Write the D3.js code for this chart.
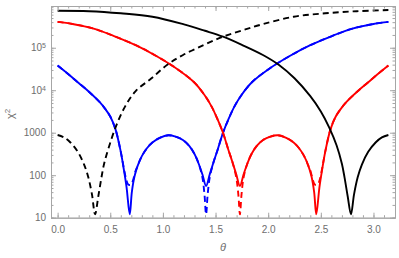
<!DOCTYPE html>
<html>
<head>
<meta charset="utf-8">
<script src="https://cdn.jsdelivr.net/npm/d3@7"></script>
<style>
  body { margin: 0; background: #fff; }
  text { font-family: "Liberation Sans", Arial, sans-serif; }
</style>
</head>
<body>
<div id="chart"></div>
<script>
// values (theta in rad, chi^2)
var thetaBlackSolid = [0, 0.3, 0.6, 0.9, 1.2, 1.4, 1.571, 1.75, 1.95, 2.1, 2.25, 2.4, 2.5, 2.58, 2.65, 2.7, 2.725, 2.755, 2.786, 2.815, 2.85, 2.89, 2.95, 3.02, 3.08, 3.1416];
var chiBlackSolid   = [741000, 724000, 646000, 537000, 355000, 251000, 182000, 117000, 67600, 39800, 19100, 7240, 3160, 1320, 501, 186, 89, 32, 12, 35, 89, 178, 355, 589, 776, 883];

var thetaBlackDashed = [0, 0.0616, 0.1216, 0.1916, 0.2516, 0.2916, 0.3266, 0.3556, 0.3866, 0.4166, 0.4416, 0.4916, 0.5616, 0.6416, 0.7416, 0.8916, 1.0416, 1.1916, 1.3916, 1.5708, 1.7416, 1.9416, 2.2416, 2.5416, 2.8416, 3.1416];
var chiBlackDashed   = [883, 776, 589, 355, 178, 89, 35, 12, 32, 89, 186, 501, 1580, 4170, 9550, 19100, 39800, 67600, 117000, 182000, 251000, 355000, 537000, 646000, 724000, 771000];

var thetaBlueSolid = [0, 0.1, 0.2, 0.3, 0.4, 0.45, 0.5, 0.55, 0.6, 0.63, 0.655, 0.685, 0.705, 0.73, 0.76, 0.8, 0.85, 0.9, 0.97, 1.05, 1.12, 1.19, 1.25, 1.3, 1.34, 1.375, 1.41, 1.445, 1.48, 1.52, 1.571, 1.62, 1.68, 1.75, 1.85, 2.0, 2.2, 2.4, 2.6, 2.8, 3.0, 3.1416];
var chiBlueSolid   = [38000, 24000, 14800, 9100, 5250, 3700, 2400, 1200, 355, 132, 52, 12, 40, 93, 166, 282, 437, 589, 759, 871, 813, 676, 490, 316, 186, 105, 56, 105, 200, 398, 1000, 2000, 4170, 7940, 15800, 30900, 63100, 115000, 186000, 282000, 363000, 407000];

var thetaBlueDashed = [0, 0.1, 0.2, 0.3, 0.4, 0.45, 0.5, 0.55, 0.6, 0.63, 0.655, 0.672, 0.698, 0.715, 0.74, 0.76, 0.8, 0.85, 0.9, 0.97, 1.05, 1.12, 1.19, 1.25, 1.3, 1.34, 1.375, 1.395, 1.41, 1.425, 1.445, 1.48, 1.52, 1.571, 1.62, 1.68, 1.75, 1.85, 2.0, 2.2, 2.4, 2.6, 2.8, 3.0, 3.1416];
var chiBlueDashed   = [38000, 24000, 14800, 9100, 5250, 3700, 2400, 1200, 355, 141, 74, 60, 60, 74, 126, 166, 282, 437, 589, 759, 871, 813, 676, 490, 316, 186, 89, 35, 12, 35, 89, 200, 398, 1000, 2000, 4170, 7940, 15800, 30900, 63100, 115000, 186000, 282000, 363000, 407000];

var thetaRedSolid = [0, 0.1416, 0.3416, 0.5416, 0.7416, 0.9416, 1.1416, 1.2916, 1.3916, 1.4616, 1.5216, 1.5708, 1.6216, 1.6616, 1.6966, 1.7316, 1.7666, 1.8016, 1.8416, 1.8916, 1.9516, 2.0216, 2.0916, 2.1716, 2.2416, 2.2916, 2.3416, 2.3816, 2.4116, 2.4366, 2.4566, 2.4866, 2.5116, 2.5416, 2.5916, 2.6416, 2.6916, 2.7416, 2.8416, 2.9416, 3.0416, 3.1416];
var chiRedSolid   = [407000, 363000, 282000, 186000, 115000, 63100, 30900, 15800, 7940, 4170, 2000, 1000, 398, 200, 105, 56, 105, 186, 316, 490, 676, 813, 871, 759, 589, 437, 282, 166, 93, 40, 12, 52, 132, 355, 1200, 2400, 3700, 5250, 9100, 14800, 24000, 38000];

var thetaRedDashed = [0, 0.1416, 0.3416, 0.5416, 0.7416, 0.9416, 1.1416, 1.2916, 1.3916, 1.4616, 1.5216, 1.5708, 1.6216, 1.6616, 1.6966, 1.7166, 1.7316, 1.7466, 1.7666, 1.8016, 1.8416, 1.8916, 1.9516, 2.0216, 2.0916, 2.1716, 2.2416, 2.2916, 2.3416, 2.3816, 2.4016, 2.4266, 2.4436, 2.4696, 2.4866, 2.5116, 2.5416, 2.5916, 2.6416, 2.6916, 2.7416, 2.8416, 2.9416, 3.0416, 3.1416];
var chiRedDashed   = [407000, 363000, 282000, 186000, 115000, 63100, 30900, 15800, 7940, 4170, 2000, 1000, 398, 200, 89, 35, 12, 35, 89, 186, 316, 490, 676, 813, 871, 759, 589, 437, 282, 166, 126, 74, 60, 60, 74, 141, 355, 1200, 2400, 3700, 5250, 9100, 14800, 24000, 38000];

var xTicks = [0, 0.5, 1.0, 1.5, 2.0, 2.5, 3.0];
var yTicks = [10, 100, 1000, 1e4, 1e5];

var chartWidth = 399, chartHeight = 258,
    plotLeft = 51, plotRight = 395, plotTop = 6, plotBottom = 217.7,
    frameColor = "#a6a6a6", labelColor = "#6e6e6e";

var x = d3.scaleLinear().domain([-0.0628, 3.2044]).range([plotLeft, plotRight]);
var y = d3.scaleLog().domain([10, 9.6e5]).range([plotBottom, plotTop]);

var svg = d3.select("#chart").append("svg")
    .attr("width", chartWidth)
    .attr("height", chartHeight);

var xMinor = d3.range(0, 3.15, 0.1);
var yMinor = [];
yTicks.forEach(function(d) {
    for (var k = 1; k < 10; k++) { if (d * k <= 9.6e5) yMinor.push(d * k); }
});

var line = d3.line()
    .x(function(d) { return x(d[0]); })
    .y(function(d) { return y(d[1]); })
    .curve(d3.curveCatmullRom.alpha(0.5));

var series = [
    { t: thetaBlueSolid, v: chiBlueSolid, color: "#0000ff", dash: null },
    { t: thetaBlueDashed, v: chiBlueDashed, color: "#0000ff", dash: "6,4" },
    { t: thetaRedSolid, v: chiRedSolid, color: "#ff0000", dash: null },
    { t: thetaRedDashed, v: chiRedDashed, color: "#ff0000", dash: "6,4" },
    { t: thetaBlackSolid, v: chiBlackSolid, color: "#000000", dash: null },
    { t: thetaBlackDashed, v: chiBlackDashed, color: "#000000", dash: "6,4" }
];

svg.append("clipPath").attr("id", "plotclip")
    .append("rect")
    .attr("x", plotLeft).attr("y", plotTop)
    .attr("width", plotRight - plotLeft).attr("height", plotBottom - plotTop);

svg.append("g").attr("clip-path", "url(#plotclip)")
    .selectAll("path")
    .data(series)
    .enter()
    .append("path")
    .attr("d", function(s) { return line(s.t.map(function(t, i) { return [t, s.v[i]]; })); })
    .attr("fill", "none")
    .attr("stroke", function(s) { return s.color; })
    .attr("stroke-width", 1.9)
    .attr("stroke-dasharray", function(s) { return s.dash; });

function styleAxis(g) {
    g.select(".domain").attr("stroke", frameColor);
    g.selectAll(".tick line").attr("stroke", frameColor);
    g.selectAll(".tick text").attr("fill", labelColor).attr("font-size", 10);
}

// bottom
svg.append("g").attr("transform", "translate(0," + plotBottom + ")")
    .call(d3.axisBottom(x).tickValues(xMinor).tickSize(-2.5).tickFormat(""))
    .call(styleAxis);
svg.append("g").attr("transform", "translate(0," + plotBottom + ")")
    .call(d3.axisBottom(x).tickValues(xTicks).tickSizeInner(-5).tickSizeOuter(0).tickPadding(8)
        .tickFormat(d3.format(".1f")))
    .call(styleAxis);
// top
svg.append("g").attr("transform", "translate(0," + plotTop + ")")
    .call(d3.axisTop(x).tickValues(xMinor).tickSize(-2.5).tickFormat(""))
    .call(styleAxis);
svg.append("g").attr("transform", "translate(0," + plotTop + ")")
    .call(d3.axisTop(x).tickValues(xTicks).tickSizeInner(-5).tickSizeOuter(0).tickFormat(""))
    .call(styleAxis);
// left
svg.append("g").attr("transform", "translate(" + plotLeft + ",0)")
    .call(d3.axisLeft(y).tickValues(yMinor).tickSize(-2.5).tickFormat(""))
    .call(styleAxis);
var yAxisG = svg.append("g").attr("transform", "translate(" + plotLeft + ",0)")
    .call(d3.axisLeft(y).tickValues(yTicks).tickSizeInner(-5).tickSizeOuter(0).tickPadding(5)
        .tickFormat(function(d) { return d <= 1000 ? String(d) : ""; }))
    .call(styleAxis);
yAxisG.selectAll(".tick text")
    .filter(function(d) { return d > 1000; })
    .each(function(d) {
        var t = d3.select(this);
        t.append("tspan").text("10");
        t.append("tspan").attr("dy", "-0.45em").attr("font-size", 7).text(Math.round(Math.log10(d)));
    });
// right
svg.append("g").attr("transform", "translate(" + plotRight + ",0)")
    .call(d3.axisRight(y).tickValues(yMinor).tickSize(-2.5).tickFormat(""))
    .call(styleAxis);
svg.append("g").attr("transform", "translate(" + plotRight + ",0)")
    .call(d3.axisRight(y).tickValues(yTicks).tickSizeInner(-5).tickSizeOuter(0).tickFormat(""))
    .call(styleAxis);

// axis labels
svg.append("text")
    .attr("x", (plotLeft + plotRight) / 2)
    .attr("y", 251)
    .attr("text-anchor", "middle")
    .attr("font-size", 11)
    .attr("font-style", "italic")
    .attr("fill", labelColor)
    .text("θ");

var yl = svg.append("text")
    .attr("transform", "translate(14," + ((plotTop + plotBottom) / 2 + 2) + ") rotate(-90)")
    .attr("text-anchor", "middle")
    .attr("font-size", 11)
    .attr("fill", labelColor);
yl.append("tspan").text("χ");
yl.append("tspan").attr("dy", "-0.45em").attr("font-size", 8).text("2");
</script>
</body>
</html>
